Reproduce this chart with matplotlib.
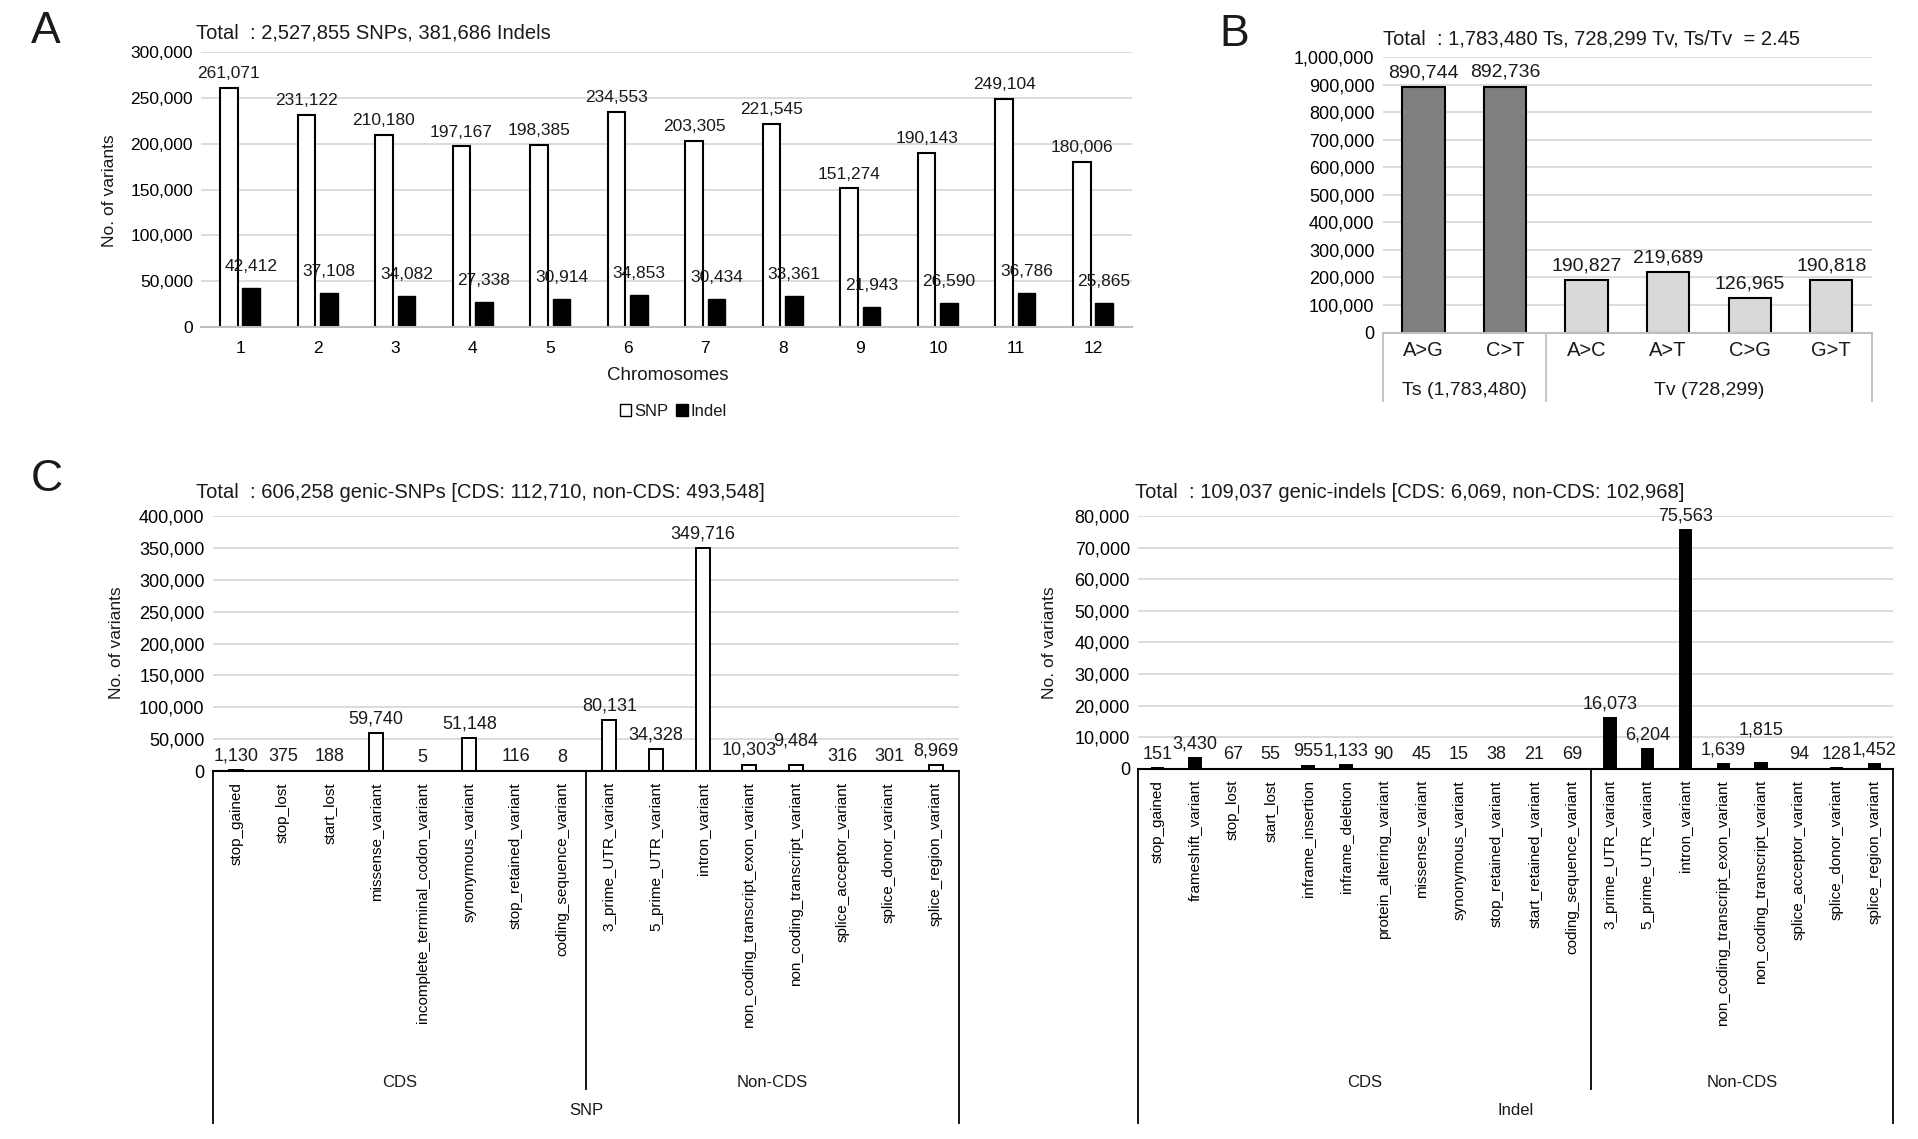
import numpy as np
import matplotlib
matplotlib.use("Agg")
import matplotlib.pyplot as plt
from matplotlib.patches import Patch
from matplotlib.ticker import FuncFormatter, MultipleLocator
from matplotlib.transforms import blended_transform_factory

plt.rcParams['font.family'] = ['Liberation Sans', 'DejaVu Sans']
plt.rcParams['text.color'] = '#1a1a1a'

# Panel A data
chrom = [str(i) for i in range(1, 13)]
snp_counts = [261071, 231122, 210180, 197167, 198385, 234553, 203305, 221545, 151274, 190143, 249104, 180006]
indel_counts = [42412, 37108, 34082, 27338, 30914, 34853, 30434, 33361, 21943, 26590, 36786, 25865]

# Panel B data
subst = ['A>G', 'C>T', 'A>C', 'A>T', 'C>G', 'G>T']
subst_counts = [890744, 892736, 190827, 219689, 126965, 190818]
subst_groups = ['Ts (1,783,480)', 'Tv (728,299)']
n_ts = 2

# Panel C data
snp_cats = ['stop_gained', 'stop_lost', 'start_lost', 'missense_variant',
            'incomplete_terminal_codon_variant', 'synonymous_variant',
            'stop_retained_variant', 'coding_sequence_variant',
            '3_prime_UTR_variant', '5_prime_UTR_variant', 'intron_variant',
            'non_coding_transcript_exon_variant', 'non_coding_transcript_variant',
            'splice_acceptor_variant', 'splice_donor_variant', 'splice_region_variant']
snp_cat_counts = [1130, 375, 188, 59740, 5, 51148, 116, 8,
                  80131, 34328, 349716, 10303, 9484, 316, 301, 8969]
n_snp_cds = 8

indel_cats = ['stop_gained', 'frameshift_variant', 'stop_lost', 'start_lost',
              'inframe_insertion', 'inframe_deletion', 'protein_altering_variant',
              'missense_variant', 'synonymous_variant', 'stop_retained_variant',
              'start_retained_variant', 'coding_sequence_variant',
              '3_prime_UTR_variant', '5_prime_UTR_variant', 'intron_variant',
              'non_coding_transcript_exon_variant', 'non_coding_transcript_variant',
              'splice_acceptor_variant', 'splice_donor_variant', 'splice_region_variant']
indel_cat_counts = [151, 3430, 67, 55, 955, 1133, 90, 45, 15, 38, 21, 69,
                    16073, 6204, 75563, 1639, 1815, 94, 128, 1452]
n_indel_cds = 12

# labels nudged up in the original figure (points)
snp_label_lift = {'non_coding_transcript_variant': 7}
indel_label_lift = {'non_coding_transcript_variant': 14}

GRID = '#d9d9d9'
comma = FuncFormatter(lambda v, p: f'{int(v):,}')


def style_axes(ax, ymax, step, tick_fs, zero_color):
    ax.set_ylim(0, ymax)
    ax.yaxis.set_major_locator(MultipleLocator(step))
    ax.yaxis.set_major_formatter(comma)
    ax.grid(axis='y', color=GRID, lw=1.3)
    ax.set_axisbelow(True)
    for s in ['top', 'right', 'left']:
        ax.spines[s].set_visible(False)
    ax.spines['bottom'].set_color(zero_color)
    ax.spines['bottom'].set_linewidth(1.5)
    ax.tick_params(axis='y', length=0, labelsize=tick_fs, pad=6)
    ax.tick_params(axis='x', length=0)


def label_bars(ax, xs, vals, fs, off=3, lifts=None):
    lifts = lifts or [0] * len(vals)
    for x, v, up in zip(xs, vals, lifts):
        ax.annotate(f'{v:,}', (x, v), xytext=(0, off + up), textcoords='offset points',
                    ha='center', va='bottom', fontsize=fs)


fig = plt.figure(figsize=(19.18, 11.39), dpi=100)

# ---------------- Panel A
axA = fig.add_axes([0.105, 0.713, 0.485, 0.241])
x = np.arange(len(chrom))
w = 0.23
axA.bar(x - 0.145, snp_counts, w, color='white', edgecolor='black', lw=1.5)
axA.bar(x + 0.145, indel_counts, w, color='black', edgecolor='black', lw=1.0)
style_axes(axA, 300000, 50000, 12.5, '#bfbfbf')
axA.set_xlim(-0.5, len(chrom) - 0.5)
axA.set_xticks(x)
axA.set_xticklabels(chrom, fontsize=12.5)
axA.tick_params(axis='x', pad=10)
label_bars(axA, x - 0.145, snp_counts, 12.5, off=5)
label_bars(axA, x + 0.145, indel_counts, 12.5, off=10)
fig.text(0.348, 0.670, 'Chromosomes', ha='center', va='center', fontsize=13.5)
fig.text(0.057, 0.833, 'No. of variants', rotation=90, ha='center', va='center', fontsize=12.5)
fig.text(0.102, 0.971, 'Total  : 2,527,855 SNPs, 381,686 Indels', ha='left', va='center', fontsize=14.5)
axA.legend(handles=[Patch(facecolor='white', edgecolor='black', label='SNP'),
                    Patch(facecolor='black', edgecolor='black', label='Indel')],
           loc='center', bbox_to_anchor=(0.351, 0.639), bbox_transform=fig.transFigure,
           ncol=2, frameon=False, fontsize=12, handlelength=0.7, handleheight=0.7,
           handletextpad=0.15, columnspacing=0.5)
fig.text(0.016, 0.972, 'A', fontsize=32, ha='left', va='center')

# ---------------- Panel B
axB = fig.add_axes([0.721, 0.708, 0.255, 0.242])
xb = np.arange(len(subst))
colsB = ['#7f7f7f'] * n_ts + ['#d9d9d9'] * (len(subst) - n_ts)
axB.bar(xb, subst_counts, 0.52, color=colsB, edgecolor='black', lw=1.5)
style_axes(axB, 1000000, 100000, 13, '#bfbfbf')
axB.set_xlim(-0.5, len(subst) - 0.5)
axB.set_xticks([])
label_bars(axB, xb, subst_counts, 14, off=4)
trB = blended_transform_factory(axB.transData, fig.transFigure)
for xi, name in zip(xb, subst):
    axB.text(xi, 0.692, name, transform=trB, ha='center', va='center', fontsize=14.5, clip_on=False)
axB.text((n_ts - 1) / 2, 0.657, subst_groups[0], transform=trB, ha='center', va='center', fontsize=14, clip_on=False)
axB.text((n_ts + len(subst) - 1) / 2, 0.657, subst_groups[1], transform=trB, ha='center', va='center', fontsize=14, clip_on=False)
for xl in [-0.5, n_ts - 0.5, len(subst) - 0.5]:
    axB.plot([xl, xl], [0.708, 0.648], transform=trB, color='#bfbfbf', lw=1.3, clip_on=False)
fig.text(0.721, 0.966, 'Total  : 1,783,480 Ts, 728,299 Tv, Ts/Tv  = 2.45', ha='left', va='center', fontsize=14.5)
fig.text(0.636, 0.970, 'B', fontsize=32, ha='left', va='center')


# ---------------- Panel C
def genic_panel(rect, cats, vals, n_cds, ymax, step, bar_color, group_name, title, title_x, ylab_x, lift):
    ax = fig.add_axes(rect)
    xc = np.arange(len(cats))
    ax.bar(xc, vals, 0.3, color=bar_color, edgecolor='black', lw=1.4)
    style_axes(ax, ymax, step, 13, 'black')
    ax.set_xlim(-0.5, len(cats) - 0.5)
    ax.set_xticks(xc)
    ax.set_xticklabels(cats, rotation=90, va='top', fontsize=11)
    ax.tick_params(axis='x', pad=8)
    label_bars(ax, xc, vals, 13, off=4, lifts=[lift.get(c, 0) for c in cats])
    tr = blended_transform_factory(ax.transData, fig.transFigure)
    bottom = rect[1]
    ax.plot([-0.5, -0.5], [bottom, 0.014], transform=tr, color='black', lw=1.3, clip_on=False)
    ax.plot([len(cats) - 0.5] * 2, [bottom, 0.014], transform=tr, color='black', lw=1.3, clip_on=False)
    ax.plot([n_cds - 0.5] * 2, [bottom, 0.044], transform=tr, color='black', lw=1.3, clip_on=False)
    ax.text((n_cds - 1) / 2, 0.050, 'CDS', transform=tr, ha='center', va='center', fontsize=12)
    ax.text((n_cds + len(cats) - 1) / 2, 0.050, 'Non-CDS', transform=tr, ha='center', va='center', fontsize=12)
    ax.text((len(cats) - 1) / 2, 0.025, group_name, transform=tr, ha='center', va='center', fontsize=12)
    fig.text(title_x, 0.568, title, ha='left', va='center', fontsize=14.5)
    fig.text(ylab_x, 0.436, 'No. of variants', rotation=90, ha='center', va='center', fontsize=12.5)
    return ax


genic_panel([0.111, 0.323, 0.389, 0.224], snp_cats, snp_cat_counts, n_snp_cds,
            400000, 50000, 'white', 'SNP',
            'Total  : 606,258 genic-SNPs [CDS: 112,710, non-CDS: 493,548]', 0.102, 0.061,
            snp_label_lift)
genic_panel([0.5935, 0.325, 0.3935, 0.222], indel_cats, indel_cat_counts, n_indel_cds,
            80000, 10000, 'black', 'Indel',
            'Total  : 109,037 genic-indels [CDS: 6,069, non-CDS: 102,968]', 0.592, 0.547,
            indel_label_lift)
fig.text(0.016, 0.579, 'C', fontsize=32, ha='left', va='center')

fig.savefig('out.png', dpi=100)
